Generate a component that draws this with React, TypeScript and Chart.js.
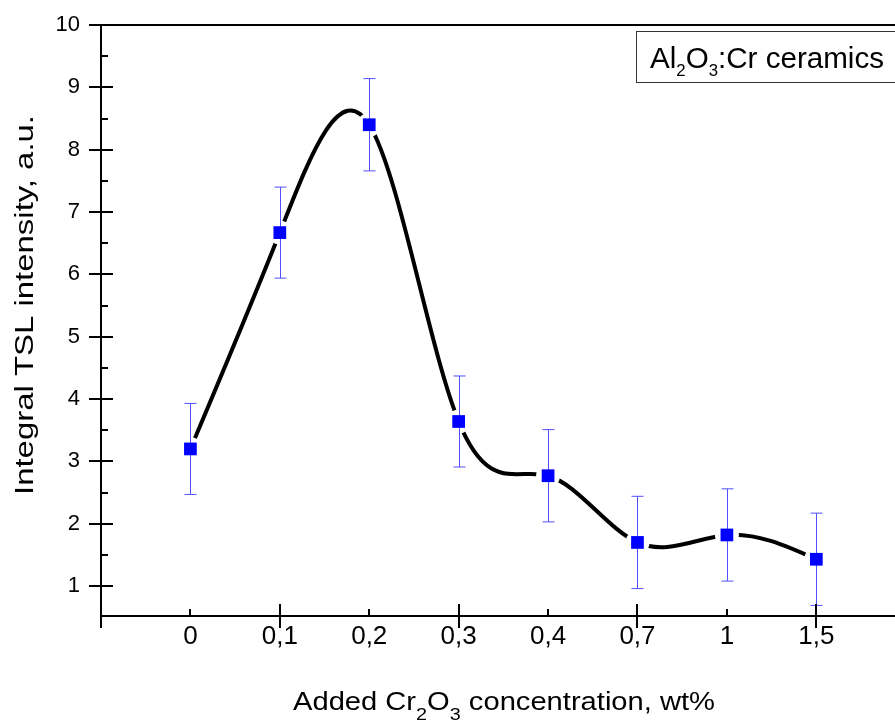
import React, { useEffect, useRef } from 'react';
import { Chart, registerables } from 'chart.js';

Chart.register(...registerables);

// ---- data ----
const categories = ['0', '0,1', '0,2', '0,3', '0,4', '0,7', '1', '1,5'];
const intensity = [3.2, 6.67, 8.4, 3.64, 2.77, 1.7, 1.82, 1.43];
const errors = [0.73, 0.73, 0.74, 0.73, 0.74, 0.74, 0.74, 0.74];
const xTickIndices = [-1, 0, 1, 2, 3, 4, 5, 6, 7];
const yTickValues = [1, 2, 3, 4, 5, 6, 7, 8, 9, 10];
const yMinorValues = [1.5, 2.5, 3.5, 4.5, 5.5, 6.5, 7.5, 8.5, 9.5];

const FONT = '"Liberation Sans", Arial, Helvetica, sans-serif';

type Part = { text: string; sub?: boolean };

// natural cubic spline slopes (unit spacing) for the curve through the data
function naturalSlopes(y: number[]): number[] {
  const n = y.length;
  const M = new Array(n).fill(0);
  if (n < 3) return y.map((_, i) => (i < n - 1 ? y[i + 1] - y[i] : y[i] - y[i - 1]));
  const c: number[] = new Array(n).fill(0);
  const d: number[] = new Array(n).fill(0);
  for (let i = 1; i < n - 1; i++) {
    const rhs = 6 * (y[i + 1] - 2 * y[i] + y[i - 1]);
    const denom = 4 - (i > 1 ? c[i - 1] : 0);
    c[i] = 1 / denom;
    d[i] = (rhs - (i > 1 ? d[i - 1] : 0)) / denom;
  }
  for (let i = n - 2; i >= 1; i--) {
    M[i] = d[i] - c[i] * (i < n - 2 ? M[i + 1] : 0);
  }
  const s: number[] = [];
  for (let i = 0; i < n; i++) {
    if (i < n - 1) s.push(y[i + 1] - y[i] - (2 * M[i] + M[i + 1]) / 6);
    else s.push(y[i] - y[i - 1] + (M[i - 1] + 2 * M[i]) / 6);
  }
  return s;
}

function drawRich(
  ctx: CanvasRenderingContext2D,
  parts: Part[],
  x: number,
  y: number,
  size: number,
  subSize: number,
  subDy: number,
  target?: number
) {
  const widths = parts.map((p) => {
    ctx.font = `${p.sub ? subSize : size}px ${FONT}`;
    return ctx.measureText(p.text).width;
  });
  const total = widths.reduce((a, b) => a + b, 0);
  const sx = target ? target / total : 1;
  ctx.save();
  ctx.translate(x, y);
  ctx.scale(sx, 1);
  ctx.fillStyle = '#000';
  ctx.textBaseline = 'alphabetic';
  ctx.textAlign = 'left';
  let cx = 0;
  parts.forEach((p, i) => {
    ctx.font = `${p.sub ? subSize : size}px ${FONT}`;
    ctx.fillText(p.text, cx, p.sub ? subDy : 0);
    cx += widths[i];
  });
  ctx.restore();
}

const framePlugin = {
  id: 'frame',
  beforeDatasetDraw(chart: any, args: any) {
    const xs = chart.scales.x;
    const ys = chart.scales.y;
    if (args.index === 0) {
      // spline control points for the curve (natural cubic spline)
      const meta = chart.getDatasetMeta(0);
      const pts = meta.data;
      const slopes = naturalSlopes(intensity);
      for (let i = 0; i < pts.length; i++) {
        const pt = pts[i];
        const px = xs.getPixelForValue(i);
        const dx = (xs.getPixelForValue(i + 1) - px) / 3;
        pt.cp1x = px - dx;
        pt.cp1y = ys.getPixelForValue(intensity[i] - slopes[i] / 3);
        pt.cp2x = px + dx;
        pt.cp2y = ys.getPixelForValue(intensity[i] + slopes[i] / 3);
      }
      if (meta.dataset) meta.dataset._pointsUpdated = true;
      return;
    }
    if (args.index !== 2) return;
    const ctx: CanvasRenderingContext2D = chart.ctx;
    ctx.save();
    ctx.strokeStyle = '#5050ff';
    ctx.lineWidth = 1;
    intensity.forEach((v, i) => {
      const px = Math.round(xs.getPixelForValue(i)) + 0.5;
      const top = ys.getPixelForValue(v + errors[i]);
      const bot = ys.getPixelForValue(v - errors[i]);
      ctx.beginPath();
      ctx.moveTo(px, top);
      ctx.lineTo(px, bot);
      ctx.moveTo(px - 6, top);
      ctx.lineTo(px + 6, top);
      ctx.moveTo(px - 6, bot);
      ctx.lineTo(px + 6, bot);
      ctx.stroke();
    });
    ctx.restore();
  },
  afterDraw(chart: any) {
    const ctx: CanvasRenderingContext2D = chart.ctx;
    const { left, top, bottom } = chart.chartArea;
    const xs = chart.scales.x;
    const ys = chart.scales.y;
    ctx.save();
    ctx.strokeStyle = '#000';
    ctx.lineWidth = 2;
    ctx.lineCap = 'butt';
    ctx.beginPath();
    ctx.moveTo(left, top);
    ctx.lineTo(left, bottom + 12);
    ctx.moveTo(left, bottom);
    ctx.lineTo(chart.width, bottom);
    ctx.moveTo(left - 12, top);
    ctx.lineTo(chart.width, top);
    yTickValues.forEach((v) => {
      const py = Math.round(ys.getPixelForValue(v));
      ctx.moveTo(left - 12, py);
      ctx.lineTo(left + 12, py);
    });
    yMinorValues.forEach((v) => {
      const py = Math.round(ys.getPixelForValue(v));
      ctx.moveTo(left, py);
      ctx.lineTo(left + 7, py);
    });
    xTickIndices.forEach((v) => {
      const px = Math.round(xs.getPixelForValue(v));
      if (Math.abs(v) % 2 === 1) {
        ctx.moveTo(px, bottom - 12);
        ctx.lineTo(px, bottom + 12);
      } else {
        ctx.moveTo(px, bottom - 7);
        ctx.lineTo(px, bottom);
      }
    });
    ctx.stroke();

    // legend box
    ctx.lineWidth = 1;
    ctx.strokeStyle = '#333';
    ctx.strokeRect(636.5, 31.5, 300, 51);
    drawRich(
      ctx,
      [{ text: 'Al' }, { text: '2', sub: true }, { text: 'O' }, { text: '3', sub: true }, { text: ':Cr ceramics' }],
      650,
      68,
      30,
      17,
      8,
      234
    );

    // x title
    drawRich(
      ctx,
      [
        { text: 'Added Cr' },
        { text: '2', sub: true },
        { text: 'O' },
        { text: '3', sub: true },
        { text: ' concentration, wt%' },
      ],
      293,
      710,
      25,
      17,
      10,
      422
    );

    // y title
    ctx.save();
    ctx.translate(33, 495);
    ctx.rotate(-Math.PI / 2);
    drawRich(ctx, [{ text: 'Integral TSL intensity, a.u.' }], 0, 0, 25, 17, 0, 380);
    ctx.restore();

    ctx.restore();
  },
};

export default function App() {
  const ref = useRef<HTMLCanvasElement | null>(null);

  useEffect(() => {
    if (!ref.current) return;
    const pts = intensity.map((v, i) => ({ x: i, y: v }));
    const chart = new Chart(ref.current, {
      type: 'line',
      data: {
        datasets: [
          {
            data: pts,
            borderColor: '#000',
            borderWidth: 4,
            tension: 0.4,
            pointRadius: 0,
            fill: false,
            clip: false,
            order: 3,
          } as any,
          {
            data: pts,
            showLine: false,
            pointRadius: 12,
            pointBackgroundColor: '#fff',
            pointBorderWidth: 0,
            pointBorderColor: '#fff',
            order: 2,
          } as any,
          {
            data: pts,
            showLine: false,
            pointStyle: 'rect',
            pointRadius: 9,
            pointBackgroundColor: '#0000ff',
            pointBorderColor: '#0000ff',
            pointBorderWidth: 0,
            order: 1,
          } as any,
        ],
      },
      options: {
        responsive: false,
        animation: false,
        layout: { autoPadding: false, padding: { top: 25, right: 0, bottom: 0, left: 0 } },
        plugins: {
          legend: { display: false },
          tooltip: { enabled: false },
        },
        scales: {
          x: {
            type: 'linear',
            min: -1,
            max: 7.88,
            grid: { display: false, drawTicks: false },
            border: { display: false },
            afterBuildTicks: (s: any) => {
              s.ticks = xTickIndices.map((v) => ({ value: v }));
            },
            afterFit: (s: any) => {
              s.height = 106;
              s.paddingLeft = 0;
              s.paddingRight = 0;
            },
            ticks: {
              autoSkip: false,
              maxRotation: 0,
              padding: 5,
              color: '#000',
              font: { family: FONT, size: 26 },
              callback: (v: any) => categories[v as number] ?? '',
            },
          },
          y: {
            type: 'linear',
            min: 0.52,
            max: 10,
            grid: { display: false, drawTicks: false },
            border: { display: false },
            afterBuildTicks: (s: any) => {
              s.ticks = yTickValues.map((v) => ({ value: v }));
            },
            afterFit: (s: any) => {
              s.width = 101;
              s.paddingTop = 0;
              s.paddingBottom = 0;
            },
            ticks: {
              padding: 21,
              color: '#000',
              font: { family: FONT, size: 22 },
              callback: (v: any) => String(v),
            },
          },
        },
      } as any,
      plugins: [framePlugin],
    });
    return () => chart.destroy();
  }, []);

  return (
    <div style={{ position: 'absolute', left: 0, top: 0, width: 895, height: 722, background: '#fff' }}>
      <canvas ref={ref} width={895} height={722} style={{ display: 'block' }} />
    </div>
  );
}
